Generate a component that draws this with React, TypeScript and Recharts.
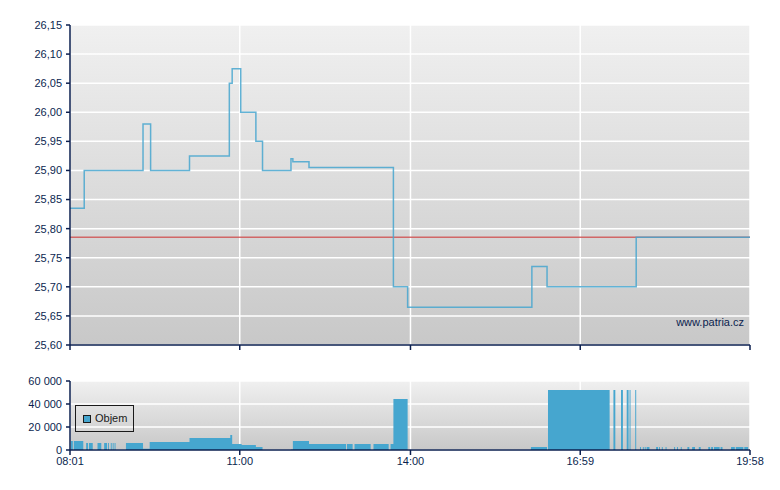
import React from 'react';
import {
  ComposedChart,
  Line,
  Area,
  XAxis,
  YAxis,
  CartesianGrid,
  ReferenceLine,
} from 'recharts';

// Time axis (minutes since midnight)
const timeTicks = [481, 660, 840, 1019, 1198];
const timeLabels = ['08:01', '11:00', '14:00', '16:59', '19:58'];

// Price series (change points, held until next)
const priceTimes = [481, 496, 558, 566, 607, 649, 652, 661, 677, 684, 714, 716, 733, 822, 837, 968, 984, 1078, 1198];
const priceValues = [25.835, 25.9, 25.98, 25.9, 25.925, 26.05, 26.075, 26.0, 25.95, 25.9, 25.92, 25.915, 25.905, 25.7, 25.665, 25.735, 25.7, 25.785, 25.785];
const refPrice = 25.785;
const priceTicks = [25.6, 25.65, 25.7, 25.75, 25.8, 25.85, 25.9, 25.95, 26.0, 26.05, 26.1, 26.15];

// Volume segments
const volStart = [482, 485, 498, 501, 510, 517, 521, 524, 526, 528, 540, 558, 565, 607, 650, 652, 662, 677, 714, 716, 733, 773, 781, 801, 819, 822, 967, 985, 1054, 1062, 1068, 1071, 1077, 1082, 1085, 1087, 1089, 1099, 1102, 1105, 1109, 1118, 1121, 1125, 1132, 1137, 1144, 1154, 1157, 1160, 1167, 1178, 1183, 1192];
const volEnd = [484, 495, 500, 505, 514, 520, 522, 525, 527, 529, 558, 565, 607, 650, 652, 662, 677, 684, 716, 733, 772, 779, 798, 817, 822, 837, 984, 1050, 1056, 1064, 1070, 1072, 1078, 1083, 1086, 1088, 1092, 1101, 1103, 1106, 1110, 1119, 1122, 1126, 1134, 1140, 1146, 1156, 1159, 1166, 1169, 1182, 1191, 1196];
const volValues = [7800, 7800, 6000, 6000, 6000, 6000, 6000, 6000, 6000, 6000, 6000, 1000, 7000, 10400, 13000, 5200, 4300, 2600, 500, 7800, 5200, 5200, 5200, 5200, 5200, 44400, 2600, 52200, 52200, 52200, 52200, 52200, 52200, 2600, 2600, 2600, 2600, 2600, 2600, 2600, 2600, 2600, 2600, 2600, 2600, 2600, 2600, 2600, 2600, 2600, 2600, 2600, 2600, 2600];
const volTicks = [0, 20000, 40000, 60000];

const priceData = priceTimes.map((t, i) => ({ t, p: priceValues[i] }));

const volumeData: { t: number; v: number }[] = [{ t: 481, v: 0 }];
volStart.forEach((s, i) => {
  const last = volumeData[volumeData.length - 1];
  if (last.t === s) {
    last.v = volValues[i];
  } else {
    volumeData.push({ t: s, v: volValues[i] });
  }
  volumeData.push({ t: volEnd[i], v: 0 });
});
volumeData.push({ t: 1198, v: 0 });

const NAVY = '#0b1f4f';
const BLUE = '#46a6cf';

const fmtTime = (v: number) => {
  const i = timeTicks.indexOf(v);
  return i >= 0 ? timeLabels[i] : '';
};
const fmtPrice = (v: number) => v.toFixed(2).replace('.', ',');
const fmtVol = (v: number) => String(Math.round(v)).replace(/\B(?=(\d{3})+(?!\d))/g, ' ');

export default function App() {
  return (
    <div
      style={{
        position: 'absolute',
        left: 0,
        top: 0,
        width: 780,
        height: 490,
        background: '#fff',
        fontFamily: '"Liberation Sans", Arial, sans-serif',
        fontSize: 11,
      }}
    >
      <div style={{ position: 'absolute', left: 0, top: 0 }}>
        <ComposedChart
          width={780}
          height={360}
          data={priceData}
          margin={{ top: 25, right: 30, bottom: 5, left: 10 }}
        >
          <defs>
            <linearGradient id="bgTop" x1="0" y1="0" x2="0" y2="1">
              <stop offset="0%" stopColor="#f0f0f0" />
              <stop offset="100%" stopColor="#c8c8c8" />
            </linearGradient>
          </defs>
          <CartesianGrid fill="url(#bgTop)" stroke="#ffffff" strokeWidth={1.5} />
          <XAxis
            dataKey="t"
            type="number"
            domain={[481, 1198]}
            ticks={timeTicks}
            tickFormatter={() => ''}
            height={10}
            tickSize={5}
            axisLine={{ stroke: NAVY, strokeWidth: 1.5 }}
            tickLine={{ stroke: NAVY, strokeWidth: 1.5 }}
          />
          <YAxis
            type="number"
            domain={[25.6, 26.15]}
            ticks={priceTicks}
            tickFormatter={fmtPrice}
            width={60}
            tickSize={4}
            tickMargin={4}
            interval={0}
            allowDataOverflow
            tick={{ fill: NAVY, fontSize: 11 }}
            axisLine={{ stroke: NAVY, strokeWidth: 1.5 }}
            tickLine={{ stroke: NAVY, strokeWidth: 1.5 }}
          />
          <ReferenceLine y={refPrice} stroke="#d05454" strokeWidth={1.5} strokeOpacity={0.85} />
          <Line
            dataKey="p"
            type="stepAfter"
            stroke={BLUE}
            strokeWidth={1.5}
            strokeOpacity={0.85}
            dot={false}
            isAnimationActive={false}
          />
        </ComposedChart>
      </div>
      <div
        style={{
          position: 'absolute',
          left: 672,
          top: 316,
          width: 72,
          textAlign: 'right',
          color: NAVY,
          fontSize: 11,
        }}
      >
        www.patria.cz
      </div>

      <div style={{ position: 'absolute', left: 0, top: 370 }}>
        <ComposedChart
          width={780}
          height={120}
          data={volumeData}
          margin={{ top: 11, right: 30, bottom: 15, left: 10 }}
        >
          <defs>
            <linearGradient id="bgBot" x1="0" y1="0" x2="0" y2="1">
              <stop offset="0%" stopColor="#f0f0f0" />
              <stop offset="100%" stopColor="#c8c8c8" />
            </linearGradient>
          </defs>
          <CartesianGrid fill="url(#bgBot)" stroke="#ffffff" strokeWidth={1.5} />
          <XAxis
            dataKey="t"
            type="number"
            domain={[481, 1198]}
            ticks={timeTicks}
            tickFormatter={fmtTime}
            interval={0}
            height={25}
            tickSize={5}
            tickMargin={2}
            tick={{ fill: NAVY, fontSize: 11 }}
            axisLine={{ stroke: NAVY, strokeWidth: 1.5 }}
            tickLine={{ stroke: NAVY, strokeWidth: 1.5 }}
          />
          <YAxis
            type="number"
            domain={[0, 60000]}
            ticks={volTicks}
            tickFormatter={fmtVol}
            interval={0}
            width={60}
            tickSize={4}
            tickMargin={4}
            tick={{ fill: NAVY, fontSize: 11 }}
            axisLine={{ stroke: NAVY, strokeWidth: 1.5 }}
            tickLine={{ stroke: NAVY, strokeWidth: 1.5 }}
          />
          <Area
            dataKey="v"
            type="stepAfter"
            stroke="none"
            fill={BLUE}
            fillOpacity={1}
            isAnimationActive={false}
          />
        </ComposedChart>
      </div>

      <div
        style={{
          position: 'absolute',
          left: 75,
          top: 405,
          width: 59,
          height: 27,
          border: '1px solid #1a1a1a',
          boxSizing: 'border-box',
        }}
      >
        <div
          style={{
            position: 'absolute',
            left: 7,
            top: 9,
            width: 8,
            height: 8,
            background: BLUE,
            border: '1px solid #1a1a1a',
            boxSizing: 'border-box',
          }}
        />
        <div
          style={{
            position: 'absolute',
            left: 19,
            top: 5,
            color: '#1a1a1a',
            fontSize: 11,
            lineHeight: '15px',
          }}
        >
          Objem
        </div>
      </div>
    </div>
  );
}
